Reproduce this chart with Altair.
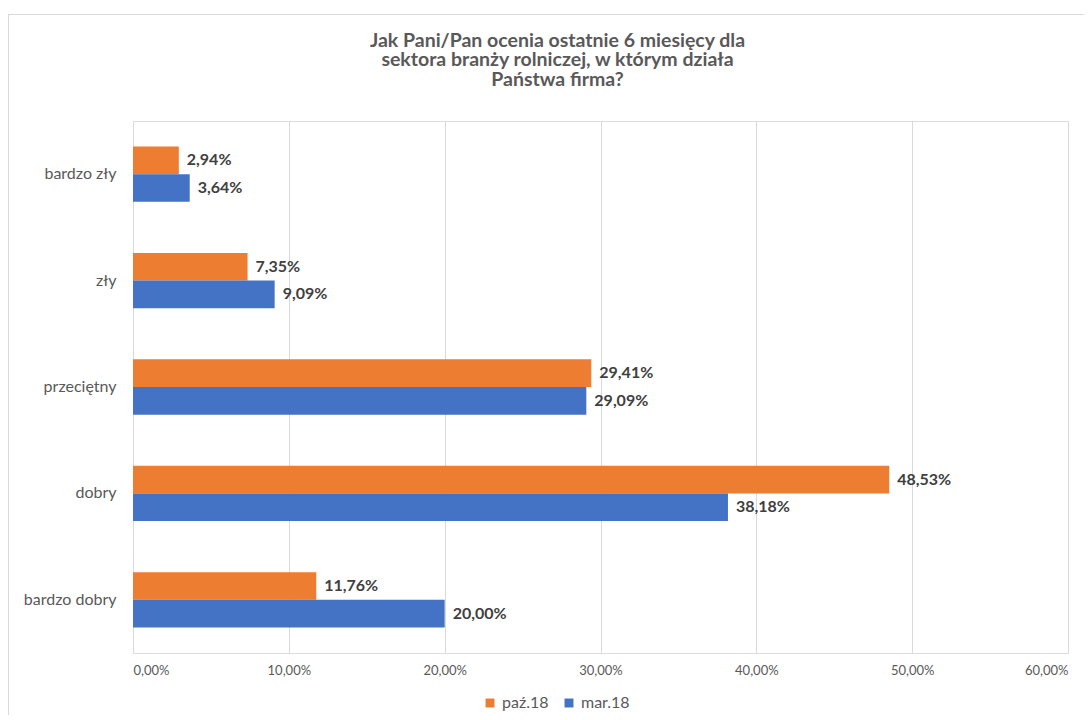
import altair as alt
import pandas as pd

categories = ["bardzo zły", "zły", "przeciętny", "dobry", "bardzo dobry"]
series = ["paź.18", "mar.18"]
paz18 = [2.94, 7.35, 29.41, 48.53, 11.76]
mar18 = [3.64, 9.09, 29.09, 38.18, 20.00]
colors = ["#ED7D31", "#4472C4"]

rows = []
for c, a, b in zip(categories, paz18, mar18):
    rows.append({"kat": c, "seria": series[0], "v": a})
    rows.append({"kat": c, "seria": series[1], "v": b})
df = pd.DataFrame(rows)
df["lab"] = df["v"].map(lambda v: f"{v:.2f}".replace(".", ",") + "%")

FONT = "Lato"
GREY = "#595959"

y_enc = alt.Y("kat:N", sort=categories, title=None,
              scale=alt.Scale(paddingInner=0.48, paddingOuter=0.24),
              axis=alt.Axis(labelFontSize=16, labelColor=GREY, labelFont=FONT,
                            labelPadding=17, ticks=False, domain=False, grid=False))
x_enc = alt.X("v:Q", title=None,
              scale=alt.Scale(domain=[0, 60], nice=False),
              axis=alt.Axis(values=[0, 10, 20, 30, 40, 50, 60],
                            labelExpr="replace(format(datum.value,'.2f'),'.',',')+'%'",
                            labelFontSize=13, labelColor=GREY, labelFont=FONT,
                            labelPadding=11, ticks=False, domain=False,
                            grid=True, gridColor="#d9d9d9", gridWidth=1))
yoff = alt.YOffset("seria:N", sort=series, scale=alt.Scale(domain=series))

bars = alt.Chart(df).mark_bar().encode(
    x=x_enc, y=y_enc, yOffset=yoff,
    color=alt.Color("seria:N", scale=alt.Scale(domain=series, range=colors),
                    legend=alt.Legend(title=None, orient="none", direction="horizontal",
                                      legendX=349, legendY=574, symbolType="square",
                                      symbolSize=80, labelFontSize=16, labelFont=FONT,
                                      labelColor=GREY, columnPadding=12, symbolStrokeWidth=0)),
)

labels = alt.Chart(df).mark_text(align="left", baseline="middle", dx=8,
                                 fontSize=16, fontWeight="bold", font=FONT,
                                 color="#404040").encode(
    x="v:Q", y=alt.Y("kat:N", sort=categories), yOffset=yoff, text="lab:N")

border_top = alt.Chart(df).mark_rule(color="#d9d9d9", strokeWidth=1).encode(
    x=alt.value(-124.5), x2=alt.value(1100), y=alt.value(-106.5))
border_left = alt.Chart(df).mark_rule(color="#d9d9d9", strokeWidth=1).encode(
    x=alt.value(-124.5), y=alt.value(-106.5), y2=alt.value(720))

chart = alt.layer(border_top, border_left, bars, labels).properties(
    width=935, height=532,
    autosize=alt.AutoSizeParams(type="none"),
    padding={"left": 125, "top": 113, "right": 16, "bottom": 62},
    title=alt.Title(["Jak Pani/Pan ocenia ostatnie 6 miesięcy dla",
                     "sektora branży rolniczej, w którym działa",
                     "Państwa firma?"],
                    anchor="middle", frame="group", dx=-43, offset=30, dy=106,
                    fontSize=19.5, fontWeight="bold", font=FONT, color=GREY,
                    lineHeight=19.5),
).configure_view(strokeWidth=0, stroke=None).configure(background="white")

chart.save("out.html", embed_options={"renderer": "svg", "actions": False})
